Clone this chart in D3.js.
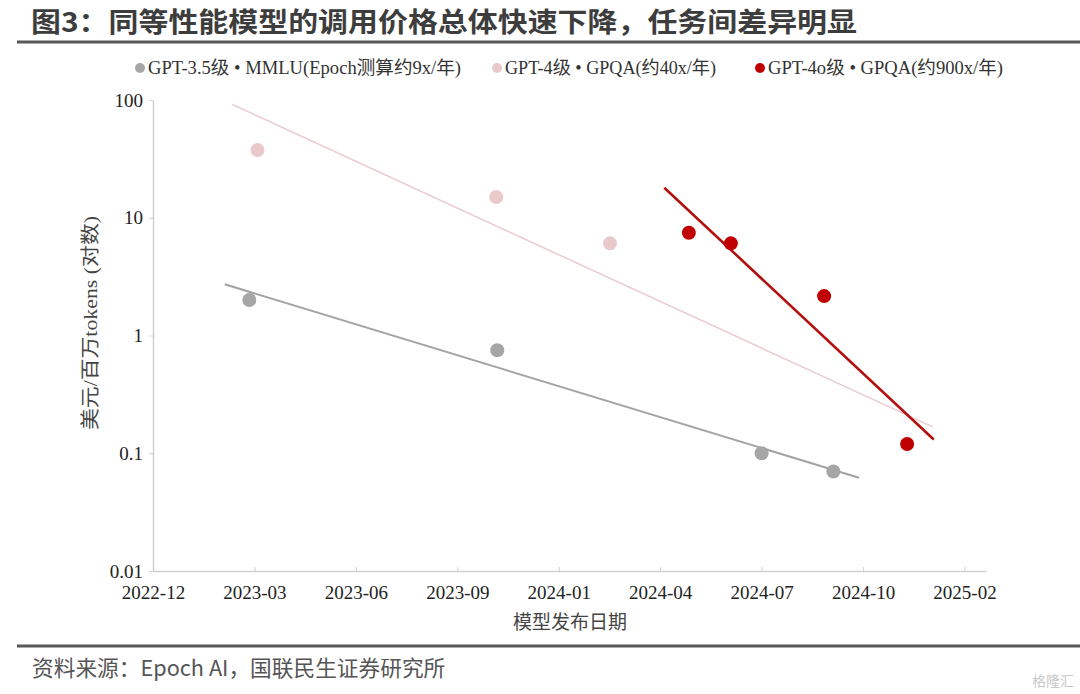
<!DOCTYPE html>
<html>
<head>
<meta charset="utf-8">
<script src="https://cdn.jsdelivr.net/npm/d3@7"></script>
<style>
  body { margin: 0; background: #fff; }
  svg { display: block; }
</style>
</head>
<body>
<div id="chart"></div>
<script>
// Data
const seriesNames = ["GPT-3.5级 • MMLU(Epoch测算约9x/年)", "GPT-4级 • GPQA(约40x/年)", "GPT-4o级 • GPQA(约900x/年)"];

const gpt35Dates = ["2023-03-09", "2023-11-06", "2024-07-21", "2024-09-29"];
const gpt35Prices = [2.0, 0.75, 0.1, 0.07];
const gpt4Dates = ["2023-03-17", "2023-11-05", "2024-02-24"];
const gpt4Prices = [37.6, 15.0, 6.06];
const gpt4oDates = ["2024-05-11", "2024-06-21", "2024-09-20", "2024-12-10"];
const gpt4oPrices = [7.46, 6.06, 2.16, 0.12];

// trend lines (start / end)
const gpt35TrendDates = ["2023-02-13", "2024-10-24"];
const gpt35TrendPrices = [2.72, 0.062];
const gpt4TrendDates = ["2023-02-20", "2025-01-04"];
const gpt4TrendPrices = [92, 0.1675];
const gpt4oTrendDates = ["2024-04-17", "2025-01-05"];
const gpt4oTrendPrices = [18.0, 0.131];

const xTickDates = ["2022-12-05", "2023-03-14", "2023-06-21", "2023-09-28", "2024-01-05",
                    "2024-04-13", "2024-07-21", "2024-10-28", "2025-02-04"];
const xTickLabels = ["2022-12", "2023-03", "2023-06", "2023-09", "2024-01",
                     "2024-04", "2024-07", "2024-10", "2025-02"];
const yTickValues = [0.01, 0.1, 1, 10, 100];
const yTickLabels = ["0.01", "0.1", "1", "10", "100"];

const colors = ["#a6a6a6", "#e9c9cc", "#c00000"];
const lineColors = ["#a3a3a3", "#ebcdd1", "#b40f0f"];
const lineWidths = [2, 1.6, 2.6];

const parse = d3.timeParse("%Y-%m-%d");

const W = 1080, H = 694;
const svg = d3.select("#chart").append("svg")
    .attr("width", W)
    .attr("height", H);

// Title
svg.append("text")
   .attr("x", 31)
   .attr("y", 32)
   .attr("textLength", 826)
   .attr("lengthAdjust", "spacingAndGlyphs")
   .style("font-family", "'Noto Sans CJK SC', sans-serif")
   .style("font-weight", "bold")
   .style("font-size", "27px")
   .style("fill", "#3d3d3d")
   .text("图3：同等性能模型的调用价格总体快速下降，任务间差异明显");

svg.append("rect")
   .attr("x", 17).attr("y", 40.5)
   .attr("width", W - 17).attr("height", 3)
   .style("fill", "#595959");

// Scales
const x = d3.scaleTime()
            .domain([parse("2022-12-05"), parse("2025-02-25")])
            .range([153, 986]);

const y = d3.scaleLog()
            .domain([0.01, 100])
            .range([571, 100]);

// Axes
const xAxis = svg.append("g")
   .attr("transform", "translate(0,571)")
   .call(d3.axisBottom(x)
           .tickValues(xTickDates.map(parse))
           .tickFormat((d, i) => xTickLabels[i])
           .tickSizeInner(-4)
           .tickSizeOuter(0)
           .tickPadding(15));
xAxis.select(".domain").style("stroke", "#d0d0d0").style("stroke-width", 1.5);
xAxis.selectAll(".tick line").style("stroke", "#d0d0d0");
xAxis.selectAll(".tick text")
     .style("font-family", "'Liberation Serif', serif")
     .style("font-size", "19px")
     .style("fill", "#222");

const yAxis = svg.append("g")
   .attr("transform", "translate(153,0)")
   .call(d3.axisLeft(y)
           .tickValues(yTickValues)
           .tickFormat((d, i) => yTickLabels[i])
           .tickSizeInner(4)
           .tickSizeOuter(0)
           .tickPadding(6));
yAxis.select(".domain").style("stroke", "#d0d0d0").style("stroke-width", 1.5);
yAxis.selectAll(".tick line").style("stroke", "#d0d0d0");
yAxis.selectAll(".tick text")
     .style("font-family", "'Liberation Serif', serif")
     .style("font-size", "19px")
     .style("fill", "#222");

// Axis titles
svg.append("text")
   .attr("transform", "translate(97,323) rotate(-90)")
   .attr("text-anchor", "middle")
   .attr("textLength", 214)
   .attr("lengthAdjust", "spacingAndGlyphs")
   .style("font-family", "'Liberation Serif', 'Noto Sans CJK SC', serif")
   .style("font-size", "19px")
   .style("fill", "#444")
   .text("美元/百万tokens (对数)");

svg.append("text")
   .attr("x", 570)
   .attr("y", 629)
   .attr("text-anchor", "middle")
   .style("font-family", "'Noto Sans CJK SC', sans-serif")
   .style("font-size", "19px")
   .style("fill", "#444")
   .text("模型发布日期");

// Trend lines
const trends = [
    { dates: gpt35TrendDates, prices: gpt35TrendPrices },
    { dates: gpt4TrendDates, prices: gpt4TrendPrices },
    { dates: gpt4oTrendDates, prices: gpt4oTrendPrices }
];
const line = d3.line()
               .x(d => x(d.date))
               .y(d => y(d.price));

trends.forEach(function(t, i) {
    const pts = t.dates.map((d, j) => ({ date: parse(d), price: t.prices[j] }));
    svg.append("path")
       .datum(pts)
       .attr("d", line)
       .style("fill", "none")
       .style("stroke", lineColors[i])
       .style("stroke-width", lineWidths[i]);
});

// Points
const series = [
    { dates: gpt35Dates, prices: gpt35Prices },
    { dates: gpt4Dates, prices: gpt4Prices },
    { dates: gpt4oDates, prices: gpt4oPrices }
];
series.forEach(function(s, i) {
    const pts = s.dates.map((d, j) => ({ date: parse(d), price: s.prices[j] }));
    svg.append("g")
       .selectAll("circle")
       .data(pts)
       .enter()
       .append("circle")
       .attr("cx", d => x(d.date))
       .attr("cy", d => y(d.price))
       .attr("r", 7)
       .style("fill", colors[i]);
});

// Legend
const legendX = [140, 497, 760];
const legendW = [313, 211, 235];
const legend = svg.append("g");
seriesNames.forEach(function(name, i) {
    legend.append("circle")
          .attr("cx", legendX[i])
          .attr("cy", 68)
          .attr("r", 5)
          .style("fill", colors[i]);
    legend.append("text")
          .attr("x", legendX[i] + 8)
          .attr("y", 74)
          .attr("textLength", legendW[i])
          .attr("lengthAdjust", "spacingAndGlyphs")
          .style("font-family", "'Liberation Serif', 'Noto Sans CJK SC', serif")
          .style("font-size", "18px")
          .style("fill", "#333")
          .text(name);
});

// Footer
svg.append("rect")
   .attr("x", 17).attr("y", 644.5)
   .attr("width", W - 17).attr("height", 3)
   .style("fill", "#595959");

svg.append("text")
   .attr("x", 32)
   .attr("y", 676)
   .style("font-family", "'Noto Sans CJK SC', sans-serif")
   .style("font-size", "21.7px")
   .style("fill", "#555")
   .text("资料来源：Epoch AI，国联民生证券研究所");

svg.append("text")
   .attr("x", 1074)
   .attr("y", 686)
   .attr("text-anchor", "end")
   .style("font-family", "'Noto Sans CJK SC', sans-serif")
   .style("font-size", "14px")
   .style("fill", "#c8c8c8")
   .text("格隆汇");
</script>
</body>
</html>
